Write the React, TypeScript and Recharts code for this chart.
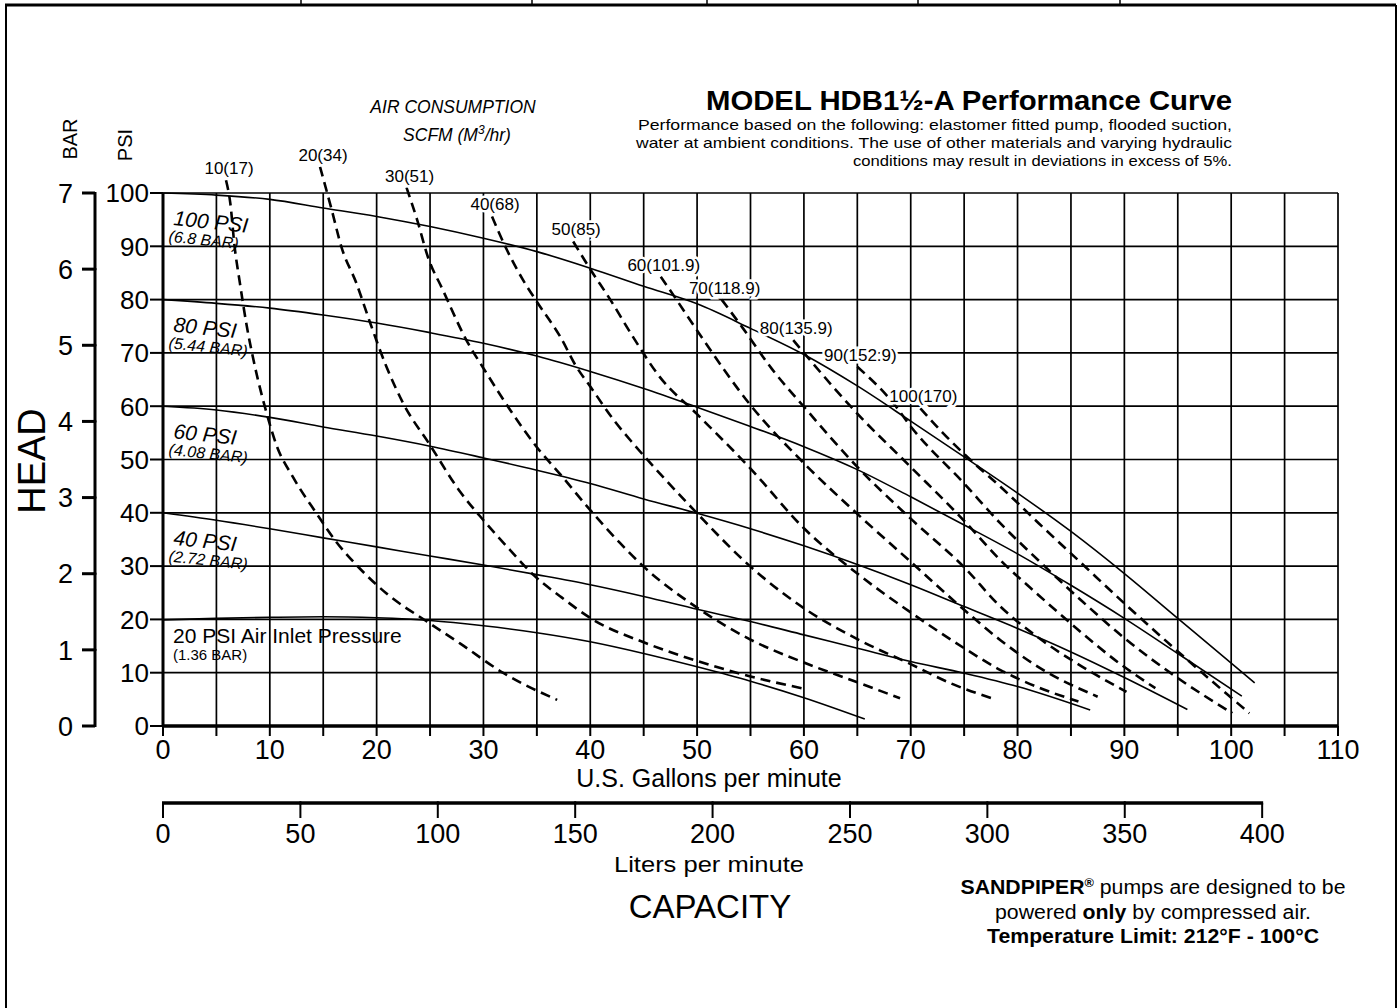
import React from 'react';
import { LineChart, Line, XAxis, YAxis, ReferenceLine } from 'recharts';

// page + plot geometry (pixels)
const W = 1398;
const H = 1008;
const PLOT_LEFT = 163;
const PLOT_RIGHT = 1338;
const PLOT_BOTTOM = 726;
const PSI100_Y = 193;
const PSI_MAX = 110; // headroom above 100 psi for the air curves
const PX_PER_PSI = (PLOT_BOTTOM - PSI100_Y) / 100;
const PLOT_TOP = PLOT_BOTTOM - PX_PER_PSI * PSI_MAX;
const PLOT_W = PLOT_RIGHT - PLOT_LEFT;
const BAR_MAX = (7 * PSI_MAX) / 100;
const BAR_STEP_PX = (PLOT_BOTTOM - PSI100_Y) / 7;
const LPM_MAX = 427.6;
const LPM_STEP_PX = (50 * PLOT_W) / LPM_MAX;

const FONT = '"Liberation Sans", Arial, Helvetica, sans-serif';

// axes
const GPM_TICKS = [0, 5, 10, 15, 20, 25, 30, 35, 40, 45, 50, 55, 60, 65, 70, 75, 80, 85, 90, 95, 100, 105, 110];
const PSI_TICKS = [0, 10, 20, 30, 40, 50, 60, 70, 80, 90, 100];
const BAR_TICKS = [0, 1, 2, 3, 4, 5, 6, 7];
const LPM_TICKS = [0, 50, 100, 150, 200, 250, 300, 350, 400];
const GRID_X = [5, 10, 15, 20, 25, 30, 35, 40, 45, 50, 55, 60, 65, 70, 75, 80, 85, 90, 95, 100, 105, 110];
const GRID_Y = [10, 20, 30, 40, 50, 60, 70, 80, 90, 100];

// head curves [gpm, psi] at each air inlet pressure
const HEAD_20PSI: [number, number][] = [[0, 19.9], [5, 20.2], [10, 20.4], [15, 20.5], [20, 20.3], [25, 19.8], [30, 18.8], [35, 17.5], [40, 15.8], [45, 13.6], [50, 11.1], [55, 8.4], [60, 5.3], [65.7, 1.3]];
const HEAD_40PSI: [number, number][] = [[0, 40], [5, 38.6], [10, 37], [15, 35.3], [20, 33.6], [25, 31.9], [30, 30.2], [35, 28.4], [40, 26.5], [45, 24.3], [50, 21.9], [55, 19.6], [60, 17.1], [65, 14.6], [70, 12.1], [75, 9.9], [80, 7.4], [86.8, 3]];
const HEAD_60PSI: [number, number][] = [[0, 60], [5, 59.3], [10, 57.9], [15, 56.1], [20, 54.4], [25, 52.5], [30, 50.3], [35, 48], [40, 45.5], [45, 42.6], [50, 39.9], [55, 37], [60, 33.8], [65, 30.3], [70, 26.5], [75, 22.4], [80, 18.3], [85, 13.9], [90, 9.1], [95.9, 3.1]];
const HEAD_80PSI: [number, number][] = [[0, 80], [5, 79.3], [10, 78.4], [15, 77.1], [20, 75.6], [25, 73.8], [30, 71.8], [35, 69.4], [40, 66.5], [45, 63.3], [50, 59.8], [55, 56.2], [60, 52.4], [65, 48.1], [70, 43], [75, 37.7], [80, 32.3], [85, 26.4], [90, 20.2], [95, 13.6], [101, 5.6]];
const HEAD_100PSI: [number, number][] = [[0, 100], [5, 99.6], [10, 98.8], [15, 97.2], [20, 95.6], [25, 93.7], [30, 91.5], [35, 89], [40, 85.9], [45, 82.5], [50, 79.2], [55, 74.6], [60, 69.7], [65, 63.8], [70, 57.2], [75, 50.5], [80, 43.7], [85, 36.5], [90, 28.6], [95, 20.2], [100, 11.8], [102.2, 8.1]];

const HEAD_CURVES = [HEAD_20PSI, HEAD_40PSI, HEAD_60PSI, HEAD_80PSI, HEAD_100PSI];
const HEAD_LABELS = ['20 PSI Air Inlet Pressure', '40 PSI', '60 PSI', '80 PSI', '100 PSI'];
const HEAD_BAR_LABELS = ['(1.36 BAR)', '(2.72 BAR)', '(4.08 BAR)', '(5.44 BAR)', '(6.8 BAR)'];

// air consumption curves [gpm, psi]
const AIR_10: [number, number][] = [[5.9, 102.4], [6.3, 98.1], [6.7, 90], [7.2, 83.1], [7.8, 75.5], [8.6, 67.5], [9.7, 58.7], [10.6, 52.8], [12.2, 46.6], [14.4, 39.8], [16.2, 34.6], [18.4, 29.6], [20.9, 24.9], [24.7, 19.6], [27.8, 15.5], [31.9, 9.9], [36.9, 4.9]];
const AIR_20: [number, number][] = [[14.7, 104.9], [15.8, 96.8], [16.7, 89.9], [18.1, 83.1], [19.4, 75.6], [20.9, 67.5], [22.5, 60.5], [25, 52.7], [27.8, 44], [30, 38.6], [32.5, 33], [34.7, 28.3], [37.2, 24.3], [40.3, 19.9], [45, 15.7], [50, 12.2], [55, 9.3], [60, 7]];
const AIR_30: [number, number][] = [[22.8, 101], [23.8, 94.9], [24.8, 88], [26.2, 81.8], [28.4, 72.4], [30.1, 66.8], [32.5, 59.3], [35, 52.3], [37.2, 47.2], [40, 40.5], [42.8, 34.3], [45, 29.9], [50, 22.2], [55, 16.2], [60, 11.9], [65, 8.2], [69, 5.2]];
const AIR_40: [number, number][] = [[30.8, 95.6], [32.2, 89.3], [33.7, 83.7], [35, 79.6], [37.2, 73], [38.7, 67.4], [40, 63.7], [42.2, 57.4], [44.1, 52.8], [46.5, 47.4], [50, 39.9], [55, 29.9], [60, 22.1], [65, 16.3], [70, 11.6], [74, 7.8], [77.9, 5]];
const AIR_50: [number, number][] = [[38.4, 90.9], [40, 85.7], [41.9, 79.9], [44, 73], [46.5, 65.5], [50, 58.5], [55, 48.3], [60, 37.1], [65, 28.6], [70, 21.3], [75, 14.6], [78.4, 10.5], [82, 7.2], [85.7, 4.6]];
const AIR_60: [number, number][] = [[46.6, 84.3], [48.1, 79.9], [50, 74.2], [55, 60.2], [60, 49.3], [65, 39.8], [70, 30.8], [75, 21.8], [78.4, 16.1], [82, 11], [87.5, 5.5]];
const AIR_70: [number, number][] = [[52.3, 80], [54.3, 74.6], [57, 67], [60, 59.9], [65, 48.6], [70, 38.9], [75, 29.8], [78.4, 22.4], [82, 16.5], [86, 11.2], [90.2, 6.4]];
const AIR_80: [number, number][] = [[59, 72.4], [60.3, 69.3], [65, 58.6], [70, 48.6], [75, 38.5], [78.4, 31.1], [82, 24.5], [86, 17.5], [89.5, 11.8], [92.9, 7.1]];
const AIR_90: [number, number][] = [[65, 67.4], [68.4, 60.5], [70, 56.2], [75, 45.5], [78.4, 38], [82, 31], [86, 23.5], [90, 16.5], [95, 9], [100.1, 2.4]];
const AIR_100: [number, number][] = [[70.9, 59.6], [73, 55], [75.6, 49.9], [78.4, 44.9], [82, 38], [86, 30.5], [90, 23], [95, 14], [101.7, 2.4]];

const AIR_CURVES = [AIR_10, AIR_20, AIR_30, AIR_40, AIR_50, AIR_60, AIR_70, AIR_80, AIR_90, AIR_100];
const AIR_LABELS = ['10(17)', '20(34)', '30(51)', '40(68)', '50(85)', '60(101.9)', '70(118.9)', '80(135.9)', '90(152.9)', '100(170)'];

const toRows = (pts: [number, number][]) => pts.map(([q, h]) => ({ q, h }));
// liters scale rows so the second x axis has something to read
const LPM_ROWS = LPM_TICKS.map(l => ({ l }));

const GpmTick = ({ x, y, payload }: any) => (
    <g>
        <line x1={x} y1={y} x2={x} y2={y + 10} stroke="#000" strokeWidth={2} />
        {payload.value % 10 === 0 && (
            <text x={x} y={y + 33} textAnchor="middle" fontSize={27} fill="#000">{payload.value}</text>
        )}
    </g>
);

const LpmTick = ({ x, y, payload }: any) => {
    const last = payload.value === LPM_TICKS[LPM_TICKS.length - 1];
    return (
        <g>
            {!last && <line x1={x - 1} y1={y} x2={x + LPM_STEP_PX + 1} y2={y} stroke="#000" strokeWidth={3.5} />}
            <line x1={x} y1={y} x2={x} y2={y + 15} stroke="#000" strokeWidth={2} />
            <text x={x} y={y + 40} textAnchor="middle" fontSize={27} fill="#000">{payload.value}</text>
        </g>
    );
};

const PsiTick = ({ x, y, payload }: any) => (
    <g>
        <line x1={x - 13} y1={y} x2={x} y2={y} stroke="#000" strokeWidth={2} />
        <text x={x - 14} y={y} dy="0.36em" textAnchor="end" fontSize={26} fill="#000">{payload.value}</text>
    </g>
);

const BarTick = ({ x, y, payload }: any) => {
    const top = payload.value === BAR_TICKS[BAR_TICKS.length - 1];
    return (
        <g>
            {!top && <line x1={x} y1={y + 1} x2={x} y2={y - BAR_STEP_PX - 1} stroke="#000" strokeWidth={3} />}
            <line x1={x - 13} y1={y} x2={x} y2={y} stroke="#000" strokeWidth={3} />
            <text x={x - 22} y={y} dy="0.36em" textAnchor="end" fontSize={27} fill="#000">{payload.value}</text>
        </g>
    );
};

// labels at the start of each head curve
const headLabel = (i: number) => (p: any) => {
    if (p.index !== 0) return null;
    const x = p.x + 10;
    if (i === 0) {
        return (
            <g>
                <text x={x} y={p.y + 23} fontSize={21} fill="#000">{HEAD_LABELS[i]}</text>
                <text x={x} y={p.y + 40} fontSize={15} fill="#000">{HEAD_BAR_LABELS[i]}</text>
            </g>
        );
    }
    const y = p.y + 32;
    return (
        <g transform={`rotate(6 ${x} ${y})`}>
            <text x={x} y={y} fontSize={21} fontStyle="italic" fill="#000">{HEAD_LABELS[i]}</text>
            <text x={x - 3} y={y + 17} fontSize={16} fontStyle="italic" fill="#000">{HEAD_BAR_LABELS[i]}</text>
        </g>
    );
};

// SCFM label above the start of each air curve
const airLabel = (i: number) => (p: any) => {
    if (p.index !== 0) return null;
    return (
        <text x={p.x + 3} y={p.y - 12} dy="0.35em" textAnchor="middle" fontSize={17} fill="#000"
            stroke="#fff" strokeWidth={5} paintOrder="stroke">
            {AIR_LABELS[i]}
        </text>
    );
};

const Overlay = () => (
    <svg width={W} height={H} style={{ position: 'absolute', left: 0, top: 0, pointerEvents: 'none' }}
        fontFamily={FONT}>
        {/* page frame */}
        <line x1={5} y1={5} x2={1396} y2={5} stroke="#000" strokeWidth={3} />
        <line x1={6} y1={5} x2={6} y2={H} stroke="#000" strokeWidth={2} />
        <line x1={1396} y1={5} x2={1396} y2={H} stroke="#000" strokeWidth={2} />
        {[301, 532, 707, 918, 1120].map(x => (
            <line key={x} x1={x} y1={0} x2={x} y2={5} stroke="#000" strokeWidth={1.5} />
        ))}

        <text x={1232} y={110} textAnchor="end" fontSize={28} fontWeight="bold" textLength={526} lengthAdjust="spacingAndGlyphs">MODEL HDB1½-A Performance Curve</text>
        <text x={1232} y={130} textAnchor="end" fontSize={15} textLength={594} lengthAdjust="spacingAndGlyphs">Performance based on the following: elastomer fitted pump, flooded suction,</text>
        <text x={1232} y={148} textAnchor="end" fontSize={15} textLength={596} lengthAdjust="spacingAndGlyphs">water at ambient conditions. The use of other materials and varying hydraulic</text>
        <text x={1232} y={166} textAnchor="end" fontSize={15} textLength={379} lengthAdjust="spacingAndGlyphs">conditions may result in deviations in excess of 5%.</text>

        <text x={453} y={113} textAnchor="middle" fontSize={17.5} fontStyle="italic">AIR CONSUMPTION</text>
        <text x={457} y={141} textAnchor="middle" fontSize={17.5} fontStyle="italic">
            SCFM (M<tspan fontSize={12} dy={-7}>3</tspan><tspan dy={7}>/hr)</tspan>
        </text>

        <text transform="translate(77 139) rotate(-90)" textAnchor="middle" fontSize={20}>BAR</text>
        <text transform="translate(132 145) rotate(-90)" textAnchor="middle" fontSize={20}>PSI</text>
        <text transform="translate(45 461) rotate(-90)" textAnchor="middle" fontSize={38}>HEAD</text>

        <text x={709} y={787} textAnchor="middle" fontSize={25}>U.S. Gallons per minute</text>
        <text x={709} y={872} textAnchor="middle" fontSize={22} textLength={190} lengthAdjust="spacingAndGlyphs">Liters per minute</text>
        <text x={710} y={918} textAnchor="middle" fontSize={33}>CAPACITY</text>

        <text x={1153} y={894} textAnchor="middle" fontSize={20} textLength={385} lengthAdjust="spacingAndGlyphs">
            <tspan fontWeight="bold">SANDPIPER</tspan><tspan fontWeight="bold" fontSize={12} dy={-7}>®</tspan>
            <tspan dy={7}> pumps are designed to be</tspan>
        </text>
        <text x={1153} y={919} textAnchor="middle" fontSize={20} textLength={316} lengthAdjust="spacingAndGlyphs">
            powered <tspan fontWeight="bold">only</tspan> by compressed air.
        </text>
        <text x={1153} y={943} textAnchor="middle" fontSize={20} fontWeight="bold" textLength={332} lengthAdjust="spacingAndGlyphs">Temperature Limit: 212°F - 100°C</text>
    </svg>
);

export default function App() {
    return (
        <div style={{ position: 'absolute', left: 0, top: 0, width: W, height: H, background: '#fff', fontFamily: FONT }}>
            <LineChart width={W} height={H} data={LPM_ROWS}
                margin={{ top: PLOT_TOP, right: W - PLOT_RIGHT, bottom: 165, left: 0 }}>
                <XAxis xAxisId="b_lpm" type="number" dataKey="l" domain={[0, LPM_MAX]} ticks={LPM_TICKS} interval={0}
                    height={40} tickSize={0} tickMargin={0} tick={<LpmTick />} axisLine={false} allowDataOverflow />
                <XAxis xAxisId="a_gpm" type="number" dataKey="q" domain={[0, 110]} ticks={GPM_TICKS} interval={0}
                    height={77} tickSize={0} tickMargin={0} tick={<GpmTick />}
                    axisLine={{ stroke: '#000', strokeWidth: 3.5 }} allowDataOverflow />
                <YAxis yAxisId="b_bar" type="number" domain={[0, BAR_MAX]} ticks={BAR_TICKS} interval={0}
                    width={95} tickSize={0} tickMargin={0} tick={<BarTick />} axisLine={false} allowDataOverflow />
                <YAxis yAxisId="a_psi" type="number" domain={[0, PSI_MAX]} ticks={PSI_TICKS} interval={0}
                    width={68} tickSize={0} tickMargin={0} tick={<PsiTick />} axisLine={false} allowDataOverflow />

                {GRID_X.map(g => (
                    <ReferenceLine key={`gx${g}`} xAxisId="a_gpm" yAxisId="a_psi"
                        segment={[{ x: g, y: 0 }, { x: g, y: 100 }]} stroke="#000" strokeWidth={1.7} />
                ))}
                {GRID_Y.map(g => (
                    <ReferenceLine key={`gy${g}`} xAxisId="a_gpm" yAxisId="a_psi"
                        segment={[{ x: 0, y: g }, { x: 110, y: g }]} stroke="#000" strokeWidth={1.7} />
                ))}
                <ReferenceLine xAxisId="a_gpm" yAxisId="a_psi" segment={[{ x: 0, y: 0 }, { x: 0, y: 100 }]}
                    stroke="#000" strokeWidth={3} />

                {HEAD_CURVES.map((pts, i) => (
                    <Line key={`h${i}`} xAxisId="a_gpm" yAxisId="a_psi" data={toRows(pts)} dataKey="h"
                        type="monotone" stroke="#000" strokeWidth={1.6} dot={false} activeDot={false}
                        label={headLabel(i)} isAnimationActive={false} />
                ))}
                {AIR_CURVES.map((pts, i) => (
                    <Line key={`a${i}`} xAxisId="a_gpm" yAxisId="a_psi" data={toRows(pts)} dataKey="h"
                        type="monotone" stroke="#000" strokeWidth={2.6} strokeDasharray="10 6"
                        dot={false} activeDot={false} label={airLabel(i)} isAnimationActive={false} />
                ))}
            </LineChart>
            <Overlay />
        </div>
    );
}
